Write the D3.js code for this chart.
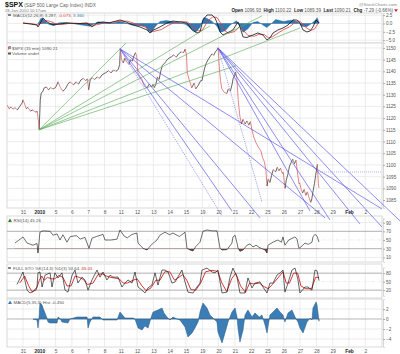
<!DOCTYPE html>
<html><head><meta charset="utf-8">
<script src="https://cdn.jsdelivr.net/npm/d3@7"></script>
<style>
body{margin:0;background:#fff}
svg{display:block;font-family:Arial,"Liberation Sans",sans-serif}
</style></head><body><div id="wrapper"></div>
<script>
// trading-day index: 0 = Dec 31, 1 = Jan 4 (2010) ...
const dayLabels = ['31','2010','5','6','7','8','11','12','13','14','15','19','20','21','22','25','26','27','28','29','Feb','2'];

// $SPX 15 min, [day, price]
const spx = [
 [-0.98,1125.6],[-0.85,1124.0],[-0.75,1124.8],[-0.6,1123.8],[-0.5,1124.5],[-0.35,1123.5],[-0.2,1125.0],[-0.05,1126.5],
 [0.0,1127.8],[0.1,1126.0],[0.2,1124.0],[0.3,1124.6],[0.45,1123.0],[0.6,1123.5],[0.75,1122.6],[0.88,1122.8],[0.95,1118.5],[0.99,1115.1],
 [1.03,1122.0],[1.06,1127.8],[1.12,1130.8],[1.2,1131.2],[1.3,1132.9],[1.45,1133.3],[1.55,1132.1],[1.7,1133.0],[1.85,1132.5],[1.98,1133.0],
 [2.05,1133.8],[2.15,1135.5],[2.3,1133.0],[2.45,1131.5],[2.6,1132.5],[2.75,1134.5],[2.88,1135.5],[2.98,1135.0],
 [3.1,1134.2],[3.25,1135.5],[3.4,1134.5],[3.55,1136.3],[3.7,1137.0],[3.85,1136.0],[3.95,1136.8],
 [4.03,1132.1],[4.12,1136.3],[4.25,1137.2],[4.4,1136.5],[4.55,1137.6],[4.7,1137.0],[4.85,1138.5],[4.97,1139.0],
 [5.1,1139.5],[5.25,1140.3],[5.4,1139.3],[5.55,1140.6],[5.7,1140.0],[5.85,1140.8],[5.93,1143.0],
 [5.97,1149.6],[6.05,1145.0],[6.15,1143.6],[6.25,1145.7],[6.35,1144.0],[6.5,1143.0],[6.6,1145.0],[6.7,1144.3],[6.8,1146.5],[6.9,1148.0],[6.98,1146.2],
 [7.05,1139.3],[7.15,1138.0],[7.3,1136.5],[7.45,1133.5],[7.6,1132.9],[7.75,1134.6],[7.9,1133.3],[7.98,1134.5],
 [8.05,1133.0],[8.15,1134.5],[8.25,1137.6],[8.35,1136.5],[8.45,1140.0],[8.55,1142.5],[8.7,1143.6],[8.85,1145.0],[8.97,1145.7],
 [9.1,1146.2],[9.25,1147.0],[9.4,1146.0],[9.55,1147.5],[9.7,1148.3],[9.85,1148.0],[9.95,1149.5],
 [10.03,1147.0],[10.08,1139.3],[10.2,1136.3],[10.35,1133.0],[10.5,1135.0],[10.6,1132.5],[10.75,1134.0],[10.9,1136.0],[10.98,1136.0],
 [11.05,1138.5],[11.15,1141.5],[11.25,1143.6],[11.35,1144.9],[11.5,1146.5],[11.6,1147.5],[11.7,1146.8],[11.8,1148.3],[11.9,1149.1],[11.97,1150.0],
 [12.05,1141.0],[12.12,1136.0],[12.2,1132.5],[12.35,1131.0],[12.5,1130.5],[12.6,1132.5],[12.72,1131.5],[12.82,1134.2],[12.9,1137.2],[12.98,1138.0],
 [13.05,1139.7],[13.12,1137.0],[13.2,1128.0],[13.3,1121.0],[13.4,1117.5],[13.5,1119.5],[13.62,1117.5],[13.75,1118.8],[13.85,1117.0],[13.95,1118.5],
 [14.05,1115.0],[14.15,1112.0],[14.3,1109.4],[14.45,1107.5],[14.6,1106.0],[14.7,1103.0],[14.8,1101.5],[14.9,1098.0],[14.97,1091.0],
 [15.05,1094.0],[15.15,1092.5],[15.25,1095.5],[15.35,1098.0],[15.5,1097.0],[15.6,1099.0],[15.7,1097.5],[15.8,1098.6],[15.9,1096.5],[15.97,1096.8],
 [16.03,1093.0],[16.08,1090.0],[16.15,1093.5],[16.25,1096.0],[16.35,1099.5],[16.45,1101.0],[16.55,1102.5],[16.65,1100.5],[16.75,1102.0],[16.85,1096.0],[16.93,1092.0],[16.98,1092.2],
 [17.05,1090.0],[17.15,1088.0],[17.25,1089.5],[17.35,1087.0],[17.45,1088.5],[17.55,1086.0],[17.65,1084.0],[17.72,1085.5],[17.8,1089.0],[17.88,1092.0],[17.95,1095.5],[18.0,1097.5],
 [18.03,1099.0],[18.06,1100.2],[18.09,1096.0],[18.12,1092.0],[18.15,1090.2]
];

// MACD(12,26,9) top panel
const macdTop = [[0,0.15],[0.43,-0.15],[0.86,-0.45],[0.92,-1.05],[1.17,1.05],[1.23,1.65],[1.47,0.45],[1.84,-0.45],[2.27,-0.15],[2.7,0.15],[3.5,0.0],[3.93,0.15],[4.23,-1.05],[4.54,0.15],[4.91,0.45],[5.3,0.2],[5.95,1.05],[6.3,0.5],[6.75,-0.45],[7.18,-1.05],[7.61,-1.95],[7.79,-2.85],[8.0,-2.0],[8.4,-1.05],[8.83,0.15],[9.2,0.75],[9.63,0.45],[10.06,0.15],[10.37,-1.95],[10.67,-2.85],[10.86,-2.55],[11.04,1.05],[11.29,2.55],[11.6,2.55],[11.78,1.65],[11.96,-0.45],[12.09,-2.55],[12.27,-3.45],[12.52,-2.85],[12.88,-1.95],[13.19,0.45],[13.31,-1.05],[13.5,-4.05],[13.74,-4.2],[14.11,-3.45],[14.4,-2.85],[14.72,-3.45],[14.97,-4.95],[15.15,-4.35],[15.34,-2.85],[15.64,-1.95],[15.95,-1.35],[16.26,-0.45],[16.56,1.05],[16.81,1.05],[16.99,0.15],[17.18,-1.95],[17.42,-2.55],[17.61,-2.25],[17.79,-1.05],[17.98,1.05],[18.16,0.15]];
const signalTop = [[0,0.1],[0.5,0.0],[0.9,-0.4],[1.2,0.2],[1.4,0.9],[1.7,0.6],[2.0,-0.1],[2.4,-0.3],[2.8,0.0],[3.5,0.0],[4.0,0.05],[4.3,-0.6],[4.6,-0.3],[5.0,0.2],[5.4,0.3],[6.05,0.7],[6.4,0.7],[6.85,0.0],[7.3,-0.7],[7.7,-1.5],[8.0,-2.4],[8.5,-1.8],[8.9,-0.6],[9.3,0.3],[9.7,0.6],[10.1,0.4],[10.45,-1.0],[10.75,-2.2],[11.0,-2.0],[11.35,0.8],[11.65,2.0],[11.9,1.8],[12.1,0.3],[12.35,-2.0],[12.6,-2.9],[13.0,-2.4],[13.3,-0.8],[13.55,-2.2],[13.8,-3.6],[14.2,-3.8],[14.5,-3.2],[14.8,-3.3],[15.05,-4.3],[15.3,-4.0],[15.7,-2.7],[16.0,-1.8],[16.35,-1.0],[16.65,0.2],[16.9,0.8],[17.1,0.2],[17.35,-1.2],[17.65,-2.1],[17.9,-1.6],[18.1,0.0],[18.16,0.3]];
const histTop = [[0.9,0],[1.0,0.5],[1.1,1.6],[1.25,1.3],[1.45,0.3],[1.6,-0.3],[1.9,-0.6],[2.2,0.2],[2.6,0.3],[3.0,0.0],[4.1,-0.8],[4.3,-0.3],[4.6,0.5],[5.0,0.3],[5.5,0.1],[5.9,0.6],[6.2,0.3],[6.6,-0.4],[7.0,-0.6],[7.5,-0.8],[7.7,-2.3],[7.9,-2.6],[8.1,-1.0],[8.4,0.6],[8.8,0.9],[9.2,0.5],[9.6,0.2],[10.0,-0.3],[10.3,-1.5],[10.6,-2.6],[10.85,-1.2],[11.1,1.8],[11.3,1.5],[11.6,0.6],[11.9,-0.8],[12.1,-2.6],[12.4,-2.2],[12.7,-0.5],[13.1,0.8],[13.3,-0.8],[13.5,-2.6],[13.8,-1.6],[14.1,0.3],[14.4,0.6],[14.7,-0.4],[14.95,-1.2],[15.2,-0.2],[15.5,1.2],[15.8,0.8],[16.0,0.6],[16.3,0.9],[16.6,1.0],[16.9,0.3],[17.1,-0.8],[17.4,-1.0],[17.7,0.0],[17.9,0.8],[18.05,1.7],[18.16,0.3]];

// RSI(14)
const rsi = [[-0.49,43],[0.0,57],[0.25,43],[0.61,38],[0.86,42],[0.92,20],[1.04,68],[1.23,71],[1.66,70],[1.84,61],[2.09,64],[2.27,50],[2.45,62],[2.7,45],[2.9,58],[3.3,60],[3.5,52],[3.8,56],[4.05,31],[4.23,54],[4.5,58],[4.91,63],[5.03,50],[5.4,50],[5.77,52],[5.95,73],[6.2,59],[6.4,55],[6.69,63],[6.99,66],[7.06,43],[7.36,31],[7.61,27],[7.8,36],[8.0,43],[8.22,50],[8.4,61],[8.71,68],[9.0,62],[9.2,66],[9.6,58],[9.94,68],[10.06,31],[10.25,27],[10.43,25],[10.6,35],[10.86,45],[11.04,70],[11.29,73],[11.6,71],[11.9,71],[12.09,31],[12.21,27],[12.52,28],[12.82,43],[12.88,57],[13.01,61],[13.13,43],[13.19,32],[13.31,24],[13.5,27],[13.74,38],[13.93,41],[14.11,34],[14.3,38],[14.54,32],[14.85,27],[14.97,20],[15.03,38],[15.34,45],[15.64,50],[15.85,45],[15.95,57],[16.07,38],[16.3,50],[16.69,57],[16.81,52],[16.93,31],[17.05,34],[17.3,43],[17.5,40],[17.73,45],[17.79,57],[17.91,63],[18.04,59],[18.16,45.26]];

// Full Stoch %K(14,3) %D(3)
const stoK = [[-0.37,40],[0.0,84],[0.25,20],[0.43,10],[0.61,14],[0.86,31],[0.92,81],[1.04,84],[1.17,31],[1.35,73],[1.66,81],[1.78,31],[1.96,81],[2.15,63],[2.39,81],[2.58,20],[2.76,13],[3.01,73],[3.19,91],[3.37,45],[3.62,66],[3.8,56],[3.99,20],[4.23,56],[4.54,91],[4.72,66],[4.91,84],[5.15,56],[5.34,73],[5.52,66],[5.83,66],[6.07,31],[6.26,45],[6.44,56],[6.69,45],[6.87,84],[7.06,31],[7.3,20],[7.48,10],[7.67,28],[7.91,38],[8.1,81],[8.28,38],[8.53,91],[8.71,91],[8.9,84],[9.14,45],[9.33,49],[9.75,91],[9.94,49],[10.12,13],[10.43,10],[10.67,31],[10.86,45],[10.98,91],[11.29,98],[11.6,84],[11.78,81],[11.96,91],[12.21,10],[12.52,13],[12.7,66],[12.88,98],[13.13,66],[13.31,10],[13.62,10],[13.8,63],[14.05,28],[14.23,45],[14.54,49],[14.72,31],[14.97,10],[15.15,45],[15.34,45],[15.58,73],[15.77,81],[15.95,91],[16.07,13],[16.26,45],[16.5,91],[16.69,98],[16.87,56],[16.99,10],[17.3,31],[17.48,31],[17.73,20],[17.91,91],[18.04,88],[18.16,53.64]];
const stoD = [[-0.2,45],[0.1,70],[0.35,35],[0.55,15],[0.8,20],[1.0,55],[1.15,70],[1.3,55],[1.5,65],[1.75,60],[1.95,60],[2.2,72],[2.45,65],[2.7,35],[2.95,35],[3.2,70],[3.45,65],[3.7,58],[3.95,40],[4.3,45],[4.6,75],[4.85,78],[5.1,70],[5.4,65],[5.9,60],[6.15,45],[6.4,45],[6.75,55],[7.0,60],[7.3,35],[7.55,18],[7.85,28],[8.15,55],[8.4,55],[8.7,85],[9.0,85],[9.3,55],[9.8,75],[10.05,55],[10.3,22],[10.6,20],[10.9,45],[11.2,85],[11.6,90],[11.95,86],[12.2,45],[12.5,15],[12.8,60],[13.05,80],[13.35,35],[13.65,12],[13.9,45],[14.15,42],[14.5,45],[14.8,32],[15.05,25],[15.3,40],[15.6,60],[15.95,85],[16.15,45],[16.35,45],[16.6,80],[16.85,80],[17.05,35],[17.35,25],[17.7,25],[17.95,65],[18.16,65.01]];

// MACD(5,35,5) histogram
const macdHist = [[0.61,0],[0.86,-0.2],[0.92,-1.8],[0.98,0],[1.04,3.2],[1.17,2.8],[1.23,2.2],[1.35,1.2],[1.47,0.2],[1.53,-0.6],[1.66,-0.8],[2.09,-0.8],[2.15,0.4],[2.3,0.0],[2.39,-0.6],[2.76,-0.8],[2.88,0.0],[3.31,0.4],[3.93,0.4],[3.99,-1.8],[4.11,-0.6],[4.29,0.4],[4.72,0.4],[4.91,-0.2],[5.15,-0.2],[5.77,-0.2],[5.95,1.4],[6.1,0.8],[6.26,0.2],[6.75,0.2],[6.87,0.0],[7.06,-1.8],[7.3,-2.2],[7.48,-1.4],[7.67,-1.8],[7.91,0.8],[7.98,1.4],[8.28,1.8],[8.53,2.2],[8.65,1.2],[8.83,0.4],[9.02,-0.2],[9.2,0.4],[9.45,0.0],[9.63,-0.2],[9.94,-1.6],[10.12,-3.6],[10.37,-2.8],[10.55,-1.8],[10.74,-0.6],[10.86,1.4],[11.04,3.2],[11.29,2.2],[11.47,0.8],[11.66,0.2],[11.9,-0.6],[11.96,-2.6],[12.21,-4.8],[12.39,-2.8],[12.58,-0.6],[12.82,1.4],[13.01,2.2],[13.13,0.4],[13.19,-1.8],[13.31,-4.6],[13.5,-2.2],[13.62,0.8],[13.8,1.8],[14.05,0.4],[14.23,1.2],[14.5,0.4],[14.66,0.8],[14.85,-1.2],[14.97,-2.8],[15.03,-1.6],[15.15,0.8],[15.34,1.4],[15.58,2.2],[15.77,1.4],[15.95,0.8],[16.07,-0.6],[16.26,1.2],[16.5,1.8],[16.69,0.4],[16.87,-0.6],[16.99,-1.8],[17.18,-2.8],[17.42,-0.6],[17.61,0.2],[17.73,-0.2],[17.79,2.2],[17.98,3.4],[18.04,2.8],[18.16,-0.45]];

// annotation lines [day1, price1, day2, price2]
const greenFan = [[0.98,1115.0,6.32,1152.1],[0.98,1115.0,11.47,1159.4],[0.98,1115.0,14.66,1163.7],[0.98,1115.0,16.99,1158.5],[0.98,1115.0,13.07,1142.4]];
const blueFan = [[5.95,1149.6,22.02,1081.2],[5.95,1149.6,18.53,1077.4],[5.95,1149.6,14.54,1077.4],[5.95,1149.6,12.82,1080.3],
 [11.96,1150.0,23.13,1076.1],[11.96,1150.0,22.02,1073.5],[11.96,1150.0,20.67,1074.8],[11.96,1150.0,18.83,1076.5],[11.96,1150.0,17.61,1080.3]];
const dottedFan = [[5.95,1149.6,12.21,1078.2],[11.96,1150.0,14.66,1084.2]];
const markLevel = [[18.1,1097.0,22.02,1097.0]];

const W = 400, H = 354, L = 7, R = 382;
const svg = d3.select('#wrapper').append('svg').attr('width', W).attr('height', H);
const x = d3.scaleLinear().domain([-1, 22]).range([6.7, 381.6]);

const panels = [
	{ id: 'top', y0: 13, y1: 43, scale: d3.scaleLinear().domain([-5.86, 3.15]).range([43, 13]), ticks: [2.5, 0, -2.5, -5], fmt: d3.format('.1f') },
	{ id: 'price', y0: 43, y1: 208, scale: d3.scaleLinear().domain([1081.6, 1152.1]).range([208, 43]), ticks: d3.range(1085, 1151, 5), fmt: d3.format('d') },
	{ id: 'rsi', y0: 216, y1: 262, scale: d3.scaleLinear().domain([0, 100]).range([261.75, 218.25]), ticks: [90, 70, 50, 30, 10], fmt: d3.format('d') },
	{ id: 'sto', y0: 264, y1: 298, scale: d3.scaleLinear().domain([0, 100]).range([295.8, 267.5]), ticks: [80, 50, 20], fmt: d3.format('d') },
	{ id: 'macd', y0: 299, y1: 347, scale: d3.scaleLinear().domain([-5.6, 4]).range([347, 299]), ticks: [2, 0, -2, -4], fmt: d3.format('d') }
];
const P = {};
panels.forEach((p) => (P[p.id] = p));

const defs = svg.append('defs');
panels.forEach((p) => {
	defs.append('clipPath').attr('id', 'clip-' + p.id)
		.append('rect').attr('x', L).attr('y', p.y0).attr('width', R - L).attr('height', p.y1 - p.y0);
});

const strong = (p, d) => (p.id === 'rsi' && (d === 70 || d === 30)) || (p.id === 'sto' && (d === 80 || d === 20));

// panel frames and grids
panels.forEach((p) => {
	const g = svg.append('g');
	g.append('rect').attr('x', L).attr('y', p.y0).attr('width', R - L).attr('height', p.y1 - p.y0)
		.attr('fill', '#fff').attr('stroke', '#c8c8c8').attr('stroke-width', 0.7);
	g.selectAll('.vg').data(d3.range(0, 22)).join('line')
		.attr('x1', (d) => x(d)).attr('x2', (d) => x(d)).attr('y1', p.y0).attr('y2', p.y1)
		.attr('stroke', '#e4e4e4').attr('stroke-width', 0.7);
	g.selectAll('.hg').data(p.ticks).join('line')
		.attr('x1', L).attr('x2', R).attr('y1', (d) => p.scale(d)).attr('y2', (d) => p.scale(d))
		.attr('stroke', (d) => (strong(p, d) ? '#a8a8a8' : '#e4e4e4'))
		.attr('stroke-width', (d) => (strong(p, d) ? 0.9 : 0.7))
		.attr('stroke-dasharray', (d) => ((p.id === 'rsi' || p.id === 'sto') && d === 50 ? '3,1.5,1,1.5' : null));
	const ax = svg.append('g').attr('transform', `translate(${R + 1},0)`)
		.call(d3.axisRight(p.scale).tickValues(p.ticks).tickFormat(p.fmt).tickSize(2).tickPadding(1));
	ax.select('.domain').attr('stroke', '#c8c8c8').attr('stroke-width', 0.7);
	ax.selectAll('line').attr('stroke', '#aaa');
	ax.selectAll('text').attr('font-size', 4.6).attr('fill', '#555');
});

// date axes
[208, 347].forEach((yy) => {
	const ax = svg.append('g').attr('transform', `translate(0,${yy})`)
		.call(d3.axisBottom(x).tickValues(d3.range(0, 22)).tickFormat((i) => dayLabels[i]).tickSize(0).tickPadding(3));
	ax.select('.domain').remove();
	ax.selectAll('text').attr('font-size', 4.8)
		.attr('font-weight', (i) => (dayLabels[i] === '2010' || dayLabels[i] === 'Feb' ? 'bold' : null))
		.attr('fill', (i) => (dayLabels[i] === '2010' || dayLabels[i] === 'Feb' ? '#222' : '#555'));
});

const line = (sc) => d3.line().x((d) => x(d[0])).y((d) => sc(d[1]));
const area0 = (sc) => d3.area().x((d) => x(d[0])).y0(sc(0)).y1((d) => sc(d[1]));

// top MACD
const gt = svg.append('g').attr('clip-path', 'url(#clip-top)');
gt.append('path').datum(histTop).attr('d', area0(P.top.scale)).attr('fill', '#2f79b5').attr('stroke', '#1d5a8c').attr('stroke-width', 0.4);
gt.append('path').datum(signalTop).attr('d', line(P.top.scale)).attr('fill', 'none').attr('stroke', '#e23b3b').attr('stroke-width', 0.8);
gt.append('path').datum(macdTop).attr('d', line(P.top.scale)).attr('fill', 'none').attr('stroke', '#111').attr('stroke-width', 0.8);

// price
const gp = svg.append('g').attr('clip-path', 'url(#clip-price)');
gp.selectAll('line.seg').data(spx.slice(1).map((d, i) => [spx[i], d])).join('line')
	.attr('x1', (d) => x(d[0][0])).attr('y1', (d) => P.price.scale(d[0][1]))
	.attr('x2', (d) => x(d[1][0])).attr('y2', (d) => P.price.scale(d[1][1]))
	.attr('stroke', (d) => (d[1][1] >= d[0][1] ? '#333' : '#de5c5c')).attr('stroke-width', 0.75);

// RSI
const gr = svg.append('g').attr('clip-path', 'url(#clip-rsi)');
defs.append('clipPath').attr('id', 'rsi-low').append('rect').attr('x', L).attr('y', P.rsi.scale(30)).attr('width', R - L).attr('height', 40);
gr.append('path').datum(rsi).attr('clip-path', 'url(#rsi-low)')
	.attr('d', d3.area().x((d) => x(d[0])).y0(P.rsi.scale(30)).y1((d) => P.rsi.scale(d[1])))
	.attr('fill', '#8a3b3b');
gr.append('path').datum(rsi).attr('d', line(P.rsi.scale)).attr('fill', 'none').attr('stroke', '#222').attr('stroke-width', 0.65);

// Stochastics
const gs = svg.append('g').attr('clip-path', 'url(#clip-sto)');
gs.append('path').datum(stoD).attr('d', line(P.sto.scale)).attr('fill', 'none').attr('stroke', '#d42020').attr('stroke-width', 0.9);
gs.append('path').datum(stoK).attr('d', line(P.sto.scale)).attr('fill', 'none').attr('stroke', '#111').attr('stroke-width', 0.65);

// MACD histogram
const gm = svg.append('g').attr('clip-path', 'url(#clip-macd)');
gm.append('line').attr('x1', L).attr('x2', R).attr('y1', P.macd.scale(0)).attr('y2', P.macd.scale(0)).attr('stroke', '#888').attr('stroke-width', 0.5);
gm.append('path').datum(macdHist).attr('d', area0(P.macd.scale)).attr('fill', '#3b7db4').attr('stroke', '#1f5587').attr('stroke-width', 0.5);

// annotation lines (drawn over everything)
const yp = P.price.scale;
const ga = svg.append('g');
const seg = (sel) => sel.attr('x1', (d) => x(d[0])).attr('y1', (d) => yp(d[1])).attr('x2', (d) => x(d[2])).attr('y2', (d) => yp(d[3]));
ga.selectAll('.gf').data(greenFan).join('line').call(seg).attr('stroke', '#5cae5c').attr('stroke-width', 0.65);
ga.selectAll('.bf').data(blueFan).join('line').call(seg).attr('stroke', '#4f4fe8').attr('stroke-width', 0.65);
ga.selectAll('.df').data(dottedFan).join('line').call(seg)
	.attr('stroke', '#7c7cf5').attr('stroke-width', 0.7).attr('stroke-dasharray', '1.2,1');
ga.selectAll('.ml').data(markLevel).join('line').call(seg)
	.attr('stroke', '#9a9af5').attr('stroke-width', 0.8).attr('stroke-dasharray', '1,1');

// texts
const txt = (xx, yy, s, o = {}) => svg.append('text').attr('x', xx).attr('y', yy).text(s)
	.attr('font-size', o.size || 4.6).attr('fill', o.fill || '#555').attr('font-weight', o.bold ? 'bold' : null)
	.attr('text-anchor', o.anchor || 'start');

const h = svg.append('text').attr('x', 5).attr('y', 6.5).attr('font-size', 4.8).attr('fill', '#666');
h.append('tspan').text('$SPX').attr('font-weight', 'bold').attr('font-size', 7).attr('fill', '#111');
h.append('tspan').text(' (S&P 500 Large Cap Index) INDX');
txt(5, 12, '28-Jan-2010 10:17am', { size: 4.2, fill: '#777' });
txt(397, 6, '@StockCharts.com', { size: 4.4, fill: '#888', anchor: 'end' });

const q = svg.append('text').attr('x', 393).attr('y', 12).attr('font-size', 4.6).attr('fill', '#555').attr('text-anchor', 'end');
[['Open', ' 1096.93  '], ['High', ' 1100.22  '], ['Low', ' 1089.39  '], ['Last', ' 1090.21  '], ['Chg', ' -7.29 (-0.66%)']].forEach((d) => {
	q.append('tspan').text(d[0]).attr('font-weight', 'bold').attr('fill', '#222');
	q.append('tspan').text(d[1]).attr('xml:space', 'preserve');
});
svg.append('path').attr('d', 'M394,9.3 L398,9.3 L396,12 Z').attr('fill', '#d22');

// top MACD legend
svg.append('rect').attr('x', 8).attr('y', 14.5).attr('width', 3).attr('height', 1).attr('fill', '#111');
const mt = svg.append('text').attr('x', 13).attr('y', 16.5).attr('font-size', 4.4).attr('fill', '#555');
mt.append('tspan').text('MACD(12,26,9) 3.287, ');
mt.append('tspan').text('-0.073, ').attr('fill', '#e23b3b');
mt.append('tspan').text('3.360').attr('fill', '#2f79b5');

// price legend
svg.append('rect').attr('x', 8).attr('y', 46.5).attr('width', 1).attr('height', 3).attr('fill', '#de5c5c');
svg.append('rect').attr('x', 9.5).attr('y', 46).attr('width', 1).attr('height', 3).attr('fill', '#333');
txt(12, 49.5, '$SPX (15 min) 1090.21', { size: 4.4 });
svg.append('rect').attr('x', 8).attr('y', 52.5).attr('width', 3).attr('height', 2).attr('fill', '#555');
txt(12, 55, 'Volume undef', { size: 4.4 });

// RSI legend
svg.append('path').attr('d', 'M8,222 L10,218.5 L12,222 Z').attr('fill', '#2e7d32');
txt(13.5, 221.8, 'RSI(14) 45.26', { size: 4.4 });

// Stoch legend
svg.append('rect').attr('x', 8).attr('y', 267.5).attr('width', 3).attr('height', 1).attr('fill', '#111');
const st = svg.append('text').attr('x', 13).attr('y', 269.6).attr('font-size', 4.4).attr('fill', '#555');
st.append('tspan').text('FULL STO %K(14,3) %D(3) 53.64, ');
st.append('tspan').text('65.01').attr('fill', '#d42020');

// MACD legend
svg.append('path').attr('d', 'M8,304 L10,300.5 L12,304 Z').attr('fill', '#3b7db4');
txt(13.5, 303.8, 'MACD(5,35,5) Hist -0.450', { size: 4.4 });
</script>
</body></html>
